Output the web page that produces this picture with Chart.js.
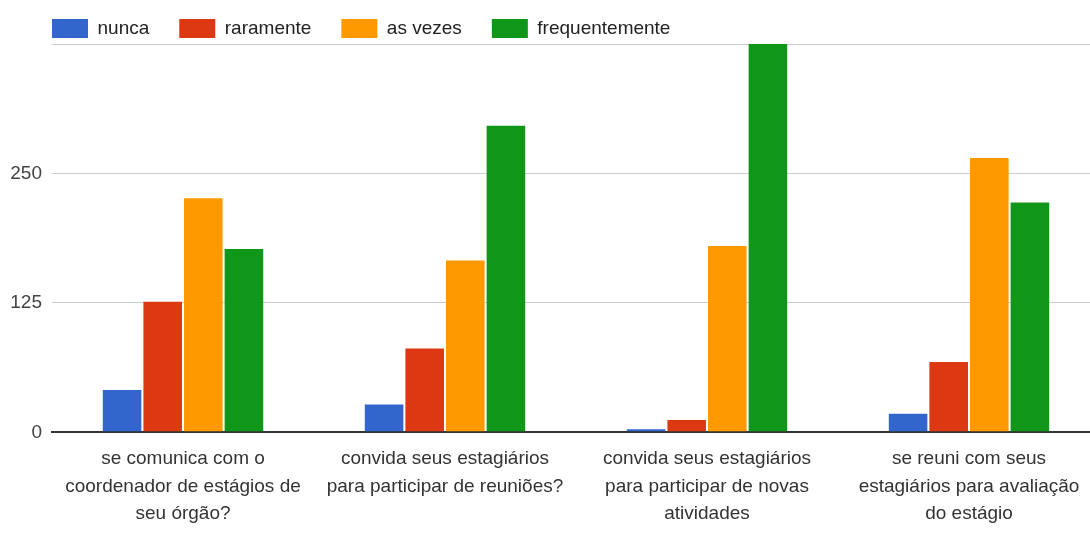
<!DOCTYPE html>
<html>
<head>
<meta charset="utf-8">
<script src="https://cdn.jsdelivr.net/npm/chart.js@4"></script>
<style>
html, body { margin: 0; padding: 0; background: #fff; overflow: hidden; }
#wrap { width: 1100px; height: 538px; }
</style>
</head>
<body>
<div id="wrap"><canvas id="myChart"></canvas></div>
<script>
// Categorias (perguntas)
const categorias = [
    ['se comunica com o', 'coordenador de estágios de', 'seu órgão?'],
    ['convida seus estagiários', 'para participar de reuniões?'],
    ['convida seus estagiários', 'para participar de novas', 'atividades'],
    ['se reuni com seus', 'estagiários para avaliação', 'do estágio']
];

// Respostas por série
const nunca = [41, 27, 3, 18];
const raramente = [126, 81, 12, 68];
const asVezes = [226, 166, 180, 265];
const frequentemente = [177, 296, 379, 222];

// Eixo Y
const yTicks = [0, 125, 250, 375];
const yTickLabels = ['0', '125', '250', ''];

const fonte = 'Liberation Sans, Arial, sans-serif';

// desloca a legenda para alinhar com a área do gráfico
const moverLegenda = {
    id: 'moverLegenda',
    afterLayout(chart) {
        chart.legend.left += 12;
        chart.legend.top += 4;
    }
};

let ctx = document.getElementById('myChart').getContext('2d');
let myChart = new Chart(ctx, {
    type: 'bar',
    data: {
        labels: categorias,
        datasets: [
            { label: 'nunca', data: nunca, backgroundColor: '#3366cc' },
            { label: 'raramente', data: raramente, backgroundColor: '#dc3912' },
            { label: 'as vezes', data: asVezes, backgroundColor: '#ff9900' },
            { label: 'frequentemente', data: frequentemente, backgroundColor: '#109618' }
        ]
    },
    plugins: [moverLegenda],
    options: {
        responsive: true,
        maintainAspectRatio: false,
        animation: false,
        datasets: {
            bar: { categoryPercentage: 0.62, barPercentage: 0.95 }
        },
        layout: {
            padding: { top: -15, left: 10, right: 0, bottom: 5 }
        },
        plugins: {
            tooltip: { enabled: false },
            legend: {
                position: 'top',
                align: 'start',
                labels: {
                    boxWidth: 36,
                    boxHeight: 19,
                    padding: 30,
                    color: '#222',
                    font: { family: fonte, size: 19 }
                }
            }
        },
        scales: {
            x: {
                grid: { display: false },
                border: { color: '#333', width: 2 },
                ticks: {
                    color: '#333',
                    padding: 5,
                    maxRotation: 0,
                    autoSkip: false,
                    font: { family: fonte, size: 19, lineHeight: 1.45 }
                }
            },
            y: {
                min: 0,
                max: 375,
                afterBuildTicks: function (scale) {
                    scale.ticks = yTicks.map(v => ({ value: v }));
                },
                afterFit: function (scale) {
                    scale.width = 42;
                },
                border: { display: false },
                grid: {
                    drawTicks: false,
                    color: c => (c.tick && c.tick.value === 0) ? '#333' : '#cccccc',
                    lineWidth: c => (c.tick && c.tick.value === 0) ? 2 : 1
                },
                ticks: {
                    color: '#444',
                    padding: 10,
                    font: { family: fonte, size: 19 },
                    callback: (v, i) => yTickLabels[i]
                }
            }
        }
    }
});
</script>
</body>
</html>
